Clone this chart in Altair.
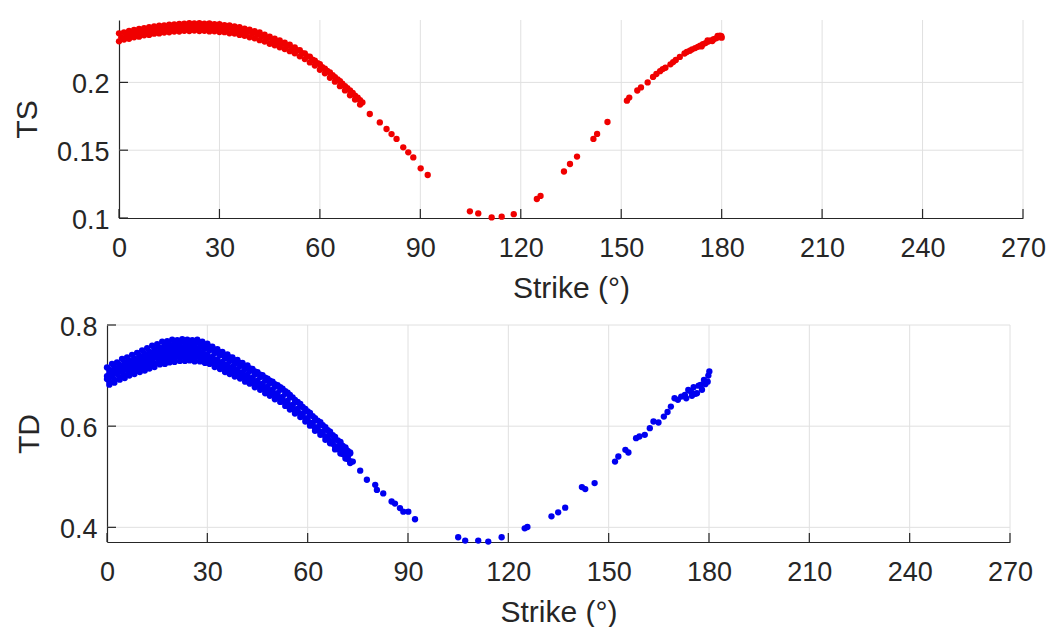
import altair as alt
import pandas as pd

# ---------------- data ----------------
strike_band = [0, 1.5, 3, 4.5, 6, 7.5, 9, 10.5, 12, 13.5, 15, 16.5, 18, 19.5, 21, 22.5, 24, 25.5,
               27, 28.5, 30, 31.5, 33, 34.5, 36, 37.5, 39, 40.5, 42, 43.5, 45, 46.5, 48, 49.5,
               51, 52.5, 54, 55.5, 57, 58.5, 60, 61.5, 63, 64.5, 66, 67.5, 69, 70.5, 72]
strike_band_b = [0.7, 2.2, 3.8, 5.3, 6.7, 8.2, 9.8, 11.3, 12.7, 14.2, 15.8, 17.3, 18.7, 20.2,
                 21.8, 23.3, 24.7, 26.2, 27.8, 29.3, 30.7, 32.2, 33.8, 35.3, 36.7, 38.2, 39.8,
                 41.3, 42.7, 44.2, 45.8, 47.3, 48.7, 50.2, 51.8, 53.3, 54.7, 56.2, 57.8, 59.3,
                 60.7, 62.2, 63.8, 65.3, 66.7, 68.2, 69.8, 71.3, 72.7]

ts_band_hi = [0.2362, 0.2369, 0.2379, 0.2386, 0.2394, 0.2400, 0.2407, 0.2412, 0.2418, 0.2421,
              0.2426, 0.2428, 0.2432, 0.2433, 0.2436, 0.2434, 0.2437, 0.2433, 0.2434, 0.2429,
              0.2429, 0.2422, 0.2420, 0.2412, 0.2407, 0.2397, 0.2389, 0.2378, 0.2368, 0.2352,
              0.2338, 0.2322, 0.2309, 0.2292, 0.2278, 0.2257, 0.2238, 0.2213, 0.2190, 0.2161,
              0.2134, 0.2102, 0.2073, 0.2039, 0.2009, 0.1973, 0.1941, 0.1903, 0.1868]
ts_band_mid = [0.2332, 0.2342, 0.2351, 0.2359, 0.2366, 0.2373, 0.2379, 0.2385, 0.2390, 0.2394,
               0.2398, 0.2401, 0.2404, 0.2406, 0.2407, 0.2408, 0.2408, 0.2407, 0.2405, 0.2403,
               0.2400, 0.2396, 0.2391, 0.2386, 0.2379, 0.2370, 0.2361, 0.2351, 0.2340, 0.2326,
               0.2311, 0.2298, 0.2284, 0.2269, 0.2254, 0.2235, 0.2215, 0.2192, 0.2168, 0.2142,
               0.2113, 0.2084, 0.2053, 0.2022, 0.1990, 0.1957, 0.1923, 0.1888, 0.1852]
ts_band_lo = [0.2303, 0.2316, 0.2322, 0.2333, 0.2337, 0.2347, 0.2350, 0.2359, 0.2361, 0.2368,
              0.2369, 0.2375, 0.2375, 0.2380, 0.2378, 0.2382, 0.2379, 0.2381, 0.2376, 0.2377,
              0.2371, 0.2370, 0.2362, 0.2360, 0.2350, 0.2344, 0.2332, 0.2325, 0.2311, 0.2301,
              0.2285, 0.2274, 0.2259, 0.2246, 0.2230, 0.2214, 0.2192, 0.2172, 0.2147, 0.2124,
              0.2093, 0.2067, 0.2034, 0.2005, 0.1972, 0.1941, 0.1905, 0.1873, 0.1836]

ts_tail_strike = [74.9, 77.9, 79.9, 81.4, 82.9, 84.9, 86.4, 87.9, 90.1, 92.2,
                  104.8, 107.3, 111.3, 114.3, 117.9,
                  124.8, 125.9, 132.9, 134.7, 136.8, 141.7, 142.8, 145.9,
                  151.7, 152.4, 154.8, 155.9, 157.9, 159.5, 160.5, 161.6, 162.4, 163.2,
                  164.7, 165.5, 166.3, 167.5, 168.9, 169.6, 170.5, 171.2, 172.1, 172.9,
                  173.6, 174.4, 175.2, 176.0, 176.8, 177.6, 178.3, 179.0, 179.5, 179.9,
                  180.0, 178.8, 177.2, 175.8, 174.0]
ts_tail_value = [0.1767, 0.1705, 0.1656, 0.1619, 0.1583, 0.1521, 0.1484, 0.1447, 0.1366, 0.1317,
                 0.1049, 0.1034, 0.1004, 0.1010, 0.1028,
                 0.1140, 0.1163, 0.1343, 0.1398, 0.1453, 0.1583, 0.1620, 0.1708,
                 0.1865, 0.1888, 0.1940, 0.1963, 0.2000, 0.2040, 0.2062, 0.2083, 0.2098, 0.2108,
                 0.2133, 0.2150, 0.2165, 0.2188, 0.2213, 0.2224, 0.2233, 0.2244, 0.2253, 0.2262,
                 0.2270, 0.2281, 0.2290, 0.2301, 0.2310, 0.2318, 0.2325, 0.2332, 0.2345, 0.2340,
                 0.2330, 0.2342, 0.2305, 0.2310, 0.2265]

td_band_r1 = [0.716, 0.723, 0.726, 0.733, 0.736, 0.741, 0.745, 0.750, 0.754, 0.759,
              0.762, 0.767, 0.768, 0.771, 0.770, 0.772, 0.771, 0.770, 0.771, 0.767,
              0.763, 0.757, 0.752, 0.747, 0.742, 0.736, 0.731, 0.725, 0.720, 0.713,
              0.707, 0.701, 0.694, 0.688, 0.681, 0.674, 0.666, 0.657, 0.648, 0.638,
              0.629, 0.620, 0.611, 0.602, 0.592, 0.582, 0.572, 0.561, 0.551]
td_band_ra = [0.711, 0.716, 0.721, 0.726, 0.730, 0.734, 0.739, 0.743, 0.747, 0.752,
              0.755, 0.759, 0.761, 0.763, 0.764, 0.765, 0.764, 0.763, 0.763, 0.760,
              0.757, 0.751, 0.746, 0.741, 0.736, 0.730, 0.725, 0.719, 0.714, 0.708,
              0.702, 0.696, 0.690, 0.683, 0.677, 0.669, 0.662, 0.652, 0.644, 0.634,
              0.626, 0.616, 0.608, 0.598, 0.589, 0.579, 0.569, 0.558, 0.548]
td_band_r2 = [0.705, 0.710, 0.715, 0.719, 0.724, 0.727, 0.732, 0.736, 0.740, 0.744,
              0.748, 0.751, 0.754, 0.755, 0.757, 0.757, 0.758, 0.756, 0.756, 0.753,
              0.750, 0.744, 0.740, 0.734, 0.729, 0.723, 0.719, 0.713, 0.709, 0.702,
              0.697, 0.690, 0.685, 0.678, 0.672, 0.664, 0.657, 0.647, 0.640, 0.630,
              0.622, 0.612, 0.604, 0.594, 0.586, 0.575, 0.566, 0.555, 0.546]
td_band_rb = [0.699, 0.704, 0.709, 0.713, 0.717, 0.721, 0.725, 0.729, 0.733, 0.737,
              0.741, 0.744, 0.746, 0.748, 0.749, 0.750, 0.750, 0.749, 0.748, 0.746,
              0.742, 0.737, 0.732, 0.727, 0.722, 0.717, 0.712, 0.707, 0.702, 0.696,
              0.690, 0.684, 0.678, 0.672, 0.665, 0.658, 0.650, 0.642, 0.634, 0.625,
              0.616, 0.607, 0.598, 0.589, 0.580, 0.570, 0.560, 0.550, 0.540]
td_band_r3 = [0.693, 0.698, 0.703, 0.707, 0.711, 0.715, 0.718, 0.723, 0.726, 0.730,
              0.735, 0.737, 0.739, 0.741, 0.742, 0.743, 0.743, 0.742, 0.741, 0.739,
              0.735, 0.730, 0.726, 0.720, 0.716, 0.711, 0.706, 0.701, 0.696, 0.690,
              0.684, 0.678, 0.672, 0.666, 0.659, 0.652, 0.644, 0.637, 0.629, 0.620,
              0.611, 0.602, 0.593, 0.584, 0.575, 0.565, 0.555, 0.545, 0.535]
td_band_rc = [0.688, 0.692, 0.697, 0.701, 0.706, 0.709, 0.713, 0.716, 0.720, 0.724,
              0.728, 0.730, 0.733, 0.734, 0.736, 0.736, 0.737, 0.735, 0.735, 0.732,
              0.729, 0.724, 0.720, 0.714, 0.710, 0.705, 0.700, 0.695, 0.690, 0.684,
              0.678, 0.672, 0.666, 0.660, 0.654, 0.646, 0.639, 0.631, 0.624, 0.615,
              0.606, 0.597, 0.588, 0.579, 0.571, 0.560, 0.551, 0.541, 0.531]
td_band_r4 = [0.682, 0.686, 0.692, 0.695, 0.700, 0.703, 0.707, 0.710, 0.714, 0.717,
              0.722, 0.723, 0.726, 0.727, 0.729, 0.729, 0.730, 0.728, 0.728, 0.725,
              0.723, 0.717, 0.713, 0.707, 0.703, 0.698, 0.694, 0.688, 0.684, 0.677,
              0.672, 0.665, 0.660, 0.653, 0.648, 0.640, 0.633, 0.625, 0.618, 0.609,
              0.601, 0.591, 0.583, 0.573, 0.566, 0.554, 0.546, 0.536, 0.527]

td_tail_strike = [73.5, 75.7, 77.7, 80.2, 80.7, 82.6, 85.1, 86.1, 87.6, 88.6, 90.1, 92.1,
                  105.0, 107.1, 111.0, 114.0, 118.0,
                  124.9, 125.7, 132.9, 134.9, 137.0, 142.0, 143.0, 145.8,
                  151.9, 152.9, 155.0, 155.9, 158.2, 159.2, 160.8, 162.3, 163.4, 164.9,
                  166.5, 167.6, 168.6, 169.7, 170.7, 171.7, 172.8, 173.8, 174.6, 175.4,
                  176.4, 177.5, 178.5, 179.6, 180.1, 179.8, 178.9, 177.9, 176.9, 175.9,
                  174.9, 173.2]
td_tail_value = [0.530, 0.512, 0.494, 0.484, 0.474, 0.467, 0.451, 0.447, 0.438, 0.431, 0.431, 0.416,
                 0.3804, 0.3738, 0.3738, 0.3718, 0.3804,
                 0.398, 0.4006, 0.4217, 0.4296, 0.4388, 0.4795, 0.4756, 0.4875,
                 0.530, 0.540, 0.5533, 0.548, 0.5763, 0.5796, 0.5829, 0.596, 0.6092, 0.6072,
                 0.619, 0.628, 0.6388, 0.6552, 0.652, 0.6585, 0.662, 0.6717, 0.668, 0.677,
                 0.665, 0.6816, 0.6914, 0.688, 0.708, 0.700, 0.683, 0.672, 0.680, 0.664,
                 0.660, 0.655]

strike_ticks = [0, 30, 60, 90, 120, 150, 180, 210, 240, 270]
strike_grid = [30, 60, 90, 120, 150, 180, 210, 240, 270]
ts_ticks = [0.1, 0.15, 0.2]
ts_grid = [0.15, 0.2]
td_ticks = [0.4, 0.6, 0.8]
td_grid = [0.4, 0.6, 0.8]
strike_domain = [0, 270]
ts_domain = [0.1, 0.246]
td_domain = [0.371, 0.8]

ts_df = pd.DataFrame({
    "strike": strike_band + strike_band_b + strike_band + ts_tail_strike,
    "value": ts_band_hi + ts_band_mid + ts_band_lo + ts_tail_value,
})
td_df = pd.DataFrame({
    "strike": (strike_band + strike_band_b + strike_band_b + strike_band + strike_band
               + strike_band_b + strike_band_b + td_tail_strike),
    "value": (td_band_r1 + td_band_ra + td_band_r2 + td_band_rb + td_band_r3
              + td_band_rc + td_band_r4 + td_tail_value),
})

INK = "#262626"
GRID = "#e0e0e0"
FONT = "Liberation Sans"


def panel(df, color, ytitle, ydomain, yticks, ygrid, yfmt, width, height, xrange,
          yoffset, ytitle_x):
    xs = alt.Scale(domain=strike_domain, range=xrange, nice=False, zero=False)
    ys = alt.Scale(domain=ydomain, nice=False, zero=False)
    xaxis = alt.Axis(values=strike_ticks, format="d", title="Strike (°)", grid=False,
                     ticks=False, tickSize=0, labelPadding=17, labelFontSize=27,
                     labelFlush=False, labelOverlap=False, titleFontSize=30,
                     titleX=(xrange[0] + xrange[1]) / 2, titleY=79,
                     titleBaseline="alphabetic", titleAlign="center")
    yaxis = alt.Axis(values=yticks, format=yfmt, title=ytitle, grid=False, ticks=False,
                     tickSize=0, offset=yoffset, labelPadding=10, labelOffset=2,
                     labelFontSize=27, labelFlush=False, labelOverlap=False,
                     titleFontSize=30, titleAngle=270, titleX=ytitle_x, titleY=height / 2,
                     titleAlign="center", titleBaseline="middle")

    xgrid = alt.Chart(pd.DataFrame({"s": strike_grid})).mark_rule(
        color=GRID, strokeWidth=1).encode(
        x=alt.X("s:Q", scale=xs, axis=xaxis),
        y=alt.YDatum(ydomain[0], type="quantitative", scale=ys, axis=yaxis),
        y2=alt.Y2Datum(ydomain[1]),
    )
    ygr = alt.Chart(pd.DataFrame({"v": ygrid})).mark_rule(
        color=GRID, strokeWidth=1).encode(
        y=alt.Y("v:Q", scale=ys, axis=yaxis),
        x=alt.XDatum(strike_domain[0], type="quantitative", scale=xs, axis=xaxis),
        x2=alt.X2Datum(strike_domain[1]),
    )
    xtk = alt.Chart(pd.DataFrame({"s": strike_ticks})).mark_rule(
        color=INK, strokeWidth=1.2, y2Offset=-9).encode(
        x=alt.X("s:Q", scale=xs, axis=xaxis),
        y=alt.YDatum(ydomain[0], type="quantitative", scale=ys, axis=yaxis),
        y2=alt.Y2Datum(ydomain[0]),
    )
    ytk = alt.Chart(pd.DataFrame({"v": yticks})).mark_rule(
        color=INK, strokeWidth=1.2, x2Offset=9).encode(
        y=alt.Y("v:Q", scale=ys, axis=yaxis),
        x=alt.XDatum(strike_domain[0], type="quantitative", scale=xs, axis=xaxis),
        x2=alt.X2Datum(strike_domain[0]),
    )
    pts = alt.Chart(df).mark_circle(size=40, color=color, opacity=1).encode(
        x=alt.X("strike:Q", scale=xs, axis=xaxis),
        y=alt.Y("value:Q", scale=ys, axis=yaxis),
    )
    return alt.layer(xgrid, ygr, xtk, ytk, pts).properties(width=width, height=height)


top = panel(ts_df, "#f00000", "TS", ts_domain, ts_ticks, ts_grid, ".2~f",
            916, 198, [12, 916], -12, -92)
bottom = panel(td_df, "#0000f0", "TD", td_domain, td_ticks, td_grid, ".1f",
               903, 217, [0, 903], 0, -78)

chart = alt.vconcat(top, bottom, spacing=10).properties(
    padding={"left": 12, "top": 19, "right": 0, "bottom": 0}
).configure_view(strokeWidth=0).configure_axis(
    labelFont=FONT, titleFont=FONT, labelColor=INK, titleColor=INK,
    domainColor=INK, domainWidth=1.2, titleFontWeight="normal"
)

chart.save("out.html", embed_options={"renderer": "svg", "actions": False})
